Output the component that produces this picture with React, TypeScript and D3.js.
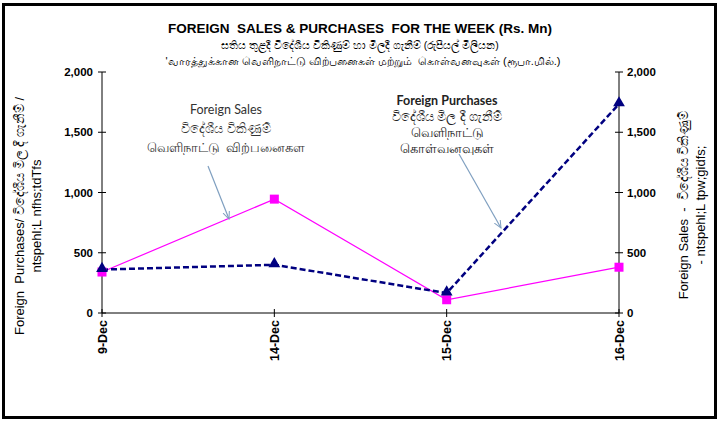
import React from 'react'
import * as d3 from 'd3'

// chart values
const dates = ['9-Dec', '14-Dec', '15-Dec', '16-Dec']
const foreignSales = [340, 945, 110, 380]
const foreignPurchases = [360, 400, 165, 1735]
const yTicks = [0, 500, 1000, 1500, 2000]

const titleLines = [
    'FOREIGN  SALES & PURCHASES  FOR THE WEEK (Rs. Mn)',
    'සතිය තුළදී විදේශීය විකිණුම් හා මිලදී ගැනීම් (රුපියල් මිලියන)',
    '\'வாரத்துக்கான வெளிநாட்டு விற்பனைகள் மற்றும்  கொள்வனவுகள் (ரூபா.மில்.)',
]
const salesNote = ['Foreign Sales', 'විදේශීය විකිණුම්', 'வெளிநாட்டு  விற்பனைகள']
const purchasesNote = ['Foreign Purchases', 'විදේශීය මිල දී ගැනීම්', 'வெளிநாட்டு', 'கொள்வனவுகள்']
const leftTitle = ['Foreign  Purchases/ විදේශීය මිල දී ගැනීම් /', 'ntspehl;L nfhs;tdTfs']
const rightTitle = ['Foreign Sales  -  විදේශීය විකිණුම්', '- ntspehl;L tpw;gidfs;']

const ARIAL = 'Arial, "Liberation Sans", sans-serif'
const NOTE_FONT = 'Lato, "Open Sans", sans-serif'
const pre = { whiteSpace: 'pre' as const }

export default function App () {
    const left = 102, right = 619, top = 72, bottom = 313

    const x = d3.scalePoint<string>().domain(dates).range([left, right])
    const y = d3.scaleLinear().domain([0, 2000]).range([bottom, top])
    const fmt = d3.format(',')

    const line = d3.line<number>()
        .x((d, i) => x(dates[i]) as number)
        .y(d => y(d))

    const tri = d3.symbol().type(d3.symbolTriangle).size(60)()

    return (
        <svg width={720} height={422} style={{ position: 'absolute', left: 0, top: 0, background: '#fff' }}>
            <defs>
                <marker id="arr" viewBox="0 0 10 10" refX="9" refY="5" markerWidth="7" markerHeight="7" orient="auto">
                    <path d="M0,1 L9,5 L0,9" fill="none" stroke="#7f9fc0" strokeWidth="1.2" />
                </marker>
            </defs>
            <rect x={3.5} y={4.5} width={712} height={413} fill="none" stroke="#000" strokeWidth={3} />

            {/* titles */}
            <text x={360} y={33} textAnchor="middle" fontFamily={ARIAL} fontWeight="bold" fontSize={13.5} style={pre}>{titleLines[0]}</text>
            <text x={360} y={49} textAnchor="middle" fontFamily={ARIAL} fontSize={10.5} style={pre}>{titleLines[1]}</text>
            <text x={363} y={65} textAnchor="middle" fontFamily={ARIAL} fontSize={11} style={pre}>{titleLines[2]}</text>

            {/* left axis */}
            <line x1={left} x2={left} y1={top} y2={bottom} stroke="#000" />
            {yTicks.map(t => (
                <g key={'l' + t}>
                    <line x1={left - 4} x2={left + 4} y1={y(t)} y2={y(t)} stroke="#000" />
                    <text x={left - 9} y={y(t) + 4} textAnchor="end" fontFamily={ARIAL} fontWeight="bold" fontSize={11.5}>{fmt(t)}</text>
                </g>
            ))}

            {/* right axis */}
            <line x1={right} x2={right} y1={top} y2={bottom} stroke="#000" />
            {yTicks.map(t => (
                <g key={'r' + t}>
                    <line x1={right - 4} x2={right + 4} y1={y(t)} y2={y(t)} stroke="#000" />
                    <text x={right + 8} y={y(t) + 4} textAnchor="start" fontFamily={ARIAL} fontWeight="bold" fontSize={11.5}>{fmt(t)}</text>
                </g>
            ))}

            {/* x axis */}
            <line x1={left} x2={right} y1={bottom} y2={bottom} stroke="#000" />
            {dates.map(d => (
                <g key={d}>
                    <line x1={x(d)} x2={x(d)} y1={bottom - 4} y2={bottom + 4} stroke="#000" />
                    <text transform={`translate(${(x(d) as number) + 4.5},${bottom + 7}) rotate(-90)`} textAnchor="end"
                        fontFamily={ARIAL} fontWeight="bold" fontSize={12.5}>{d}</text>
                </g>
            ))}

            {/* axis titles */}
            <g transform={`translate(24,216) rotate(-90)`}>
                <text x={0} y={0} textAnchor="middle" fontFamily={ARIAL} fontSize={13} style={pre}>{leftTitle[0]}</text>
                <text x={0} y={17} textAnchor="middle" fontFamily={ARIAL} fontSize={13} style={pre}>{leftTitle[1]}</text>
            </g>
            <g transform={`translate(688,205) rotate(-90)`}>
                <text x={0} y={0} textAnchor="middle" fontFamily={ARIAL} fontSize={13} style={pre}>{rightTitle[0]}</text>
                <text x={0} y={17} textAnchor="middle" fontFamily={ARIAL} fontSize={13} style={pre}>{rightTitle[1]}</text>
            </g>

            {/* series */}
            <path d={line(foreignSales) || ''} fill="none" stroke="#ff00ff" strokeWidth={1.2} />
            <path d={line(foreignPurchases) || ''} fill="none" stroke="#000080" strokeWidth={2.5} strokeDasharray="6,3" />
            {foreignSales.map((v, i) => (
                <rect key={'s' + i} x={(x(dates[i]) as number) - 4.5} y={y(v) - 4.5} width={9} height={9} fill="#ff00ff" />
            ))}
            {foreignPurchases.map((v, i) => (
                <path key={'p' + i} d={tri || ''} transform={`translate(${x(dates[i])},${y(v) - 1})`} fill="#000080" />
            ))}

            {/* callouts */}
            {salesNote.map((s, i) => (
                <text key={'sn' + i} x={226} y={114 + i * 19} textAnchor="middle" fontFamily={NOTE_FONT} fontSize={12.5} fill="#333" style={pre}>{s}</text>
            ))}
            <line x1={208} y1={166} x2={229} y2={219} stroke="#7f9fc0" strokeWidth={1.2} markerEnd="url(#arr)" />

            {purchasesNote.map((s, i) => (
                <text key={'pn' + i} x={447} y={105 + i * 16} textAnchor="middle" fontFamily={NOTE_FONT}
                    fontWeight={i === 0 ? 'bold' : 'normal'} fontSize={12.5} fill="#222">{s}</text>
            ))}
            <line x1={459} y1={154} x2={501} y2={228} stroke="#7f9fc0" strokeWidth={1.2} markerEnd="url(#arr)" />
        </svg>
    )
}
